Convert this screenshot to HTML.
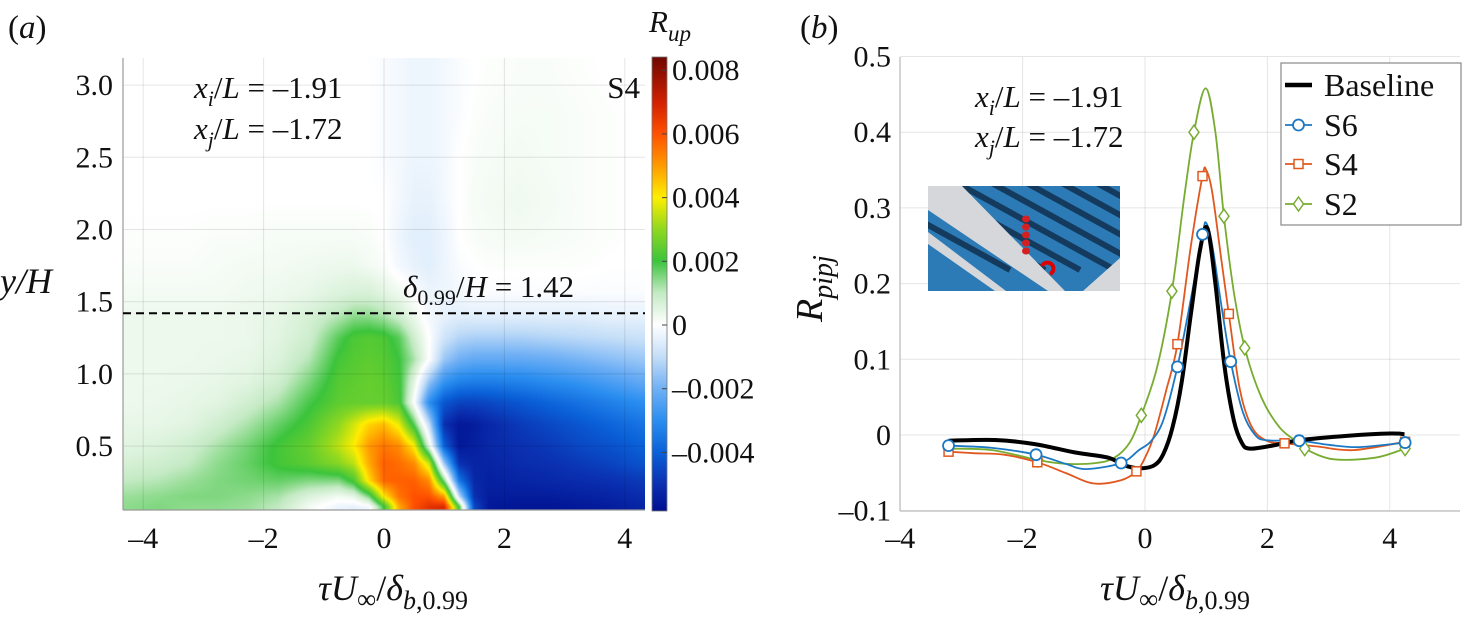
<!DOCTYPE html>
<html><head><meta charset="utf-8">
<style>
html,body{margin:0;padding:0;background:#fff;}
#wrap{position:relative;width:1463px;height:634px;overflow:hidden;font-family:"Liberation Serif","Times New Roman","DejaVu Serif",serif;}
#heat{position:absolute;left:123px;top:58px;}
#svg{position:absolute;left:0;top:0;font-family:"Liberation Serif","Times New Roman","DejaVu Serif",serif;}
#svg text, #svg tspan{font-family:"Liberation Serif","Times New Roman","DejaVu Serif",serif;}
</style></head>
<body>
<div id="wrap">
<canvas id="heat" width="522" height="452"></canvas>
<svg id="svg" width="1463" height="634" xmlns="http://www.w3.org/2000/svg"></svg>
</div>
<script>
// ---------- Panel (a) heatmap data (values in units of 1e-3) ----------
const heatX = [-4.25,-3.75,-3.25,-2.75,-2.25,-1.75,-1.25,-0.75,-0.5,-0.25,0,0.25,0.5,0.75,1.0,1.25,1.5,1.75,2.25,2.75,3.25,3.75,4.25];
const heatY = [3.1,2.8,2.5,2.2,1.95,1.75,1.55,1.4,1.25,1.1,0.95,0.8,0.65,0.5,0.38,0.26,0.15,0.08];
const heatV = [
[0,0,0,0,0,0,0,0,0,0,-0.1,-0.2,-0.3,-0.3,-0.2,-0.1,0,0.05,0.1,0.1,0.05,0,0],
[0,0,0,0,0,0,0,0,0,0,-0.1,-0.2,-0.3,-0.3,-0.2,-0.1,0.05,0.1,0.15,0.15,0.1,0.05,0],
[0,0,0,0,0,0,0,0,0,0,-0.1,-0.2,-0.3,-0.3,-0.2,0,0.1,0.15,0.2,0.15,0.1,0.05,0],
[0,0,0,0,0,0,0,0,0,0,0,-0.2,-0.4,-0.4,-0.2,0,0.15,0.2,0.25,0.2,0.1,0.05,0],
[0.05,0.05,0.05,0.1,0.1,0.15,0.15,0.15,0.15,0.1,0,-0.3,-0.5,-0.5,-0.3,0,0.1,0.15,0.2,0.15,0.1,0.05,0],
[0.1,0.1,0.1,0.15,0.2,0.2,0.25,0.3,0.3,0.2,0.1,-0.2,-0.4,-0.5,-0.3,-0.1,0,0.05,0.05,0.05,0.05,0,0],
[0.2,0.2,0.2,0.2,0.25,0.3,0.4,0.6,0.7,0.7,0.5,0.3,0,-0.3,-0.3,-0.2,-0.1,-0.1,-0.1,-0.1,-0.1,-0.1,-0.1],
[0.3,0.3,0.3,0.3,0.35,0.45,0.7,1.1,1.4,1.4,1.2,0.8,0.3,-0.2,-0.4,-0.5,-0.5,-0.5,-0.5,-0.5,-0.5,-0.4,-0.4],
[0.3,0.3,0.3,0.3,0.35,0.5,0.8,1.8,2.2,2.3,2.2,1.8,0.8,0,-0.8,-1.2,-1.3,-1.3,-1.3,-1.2,-1.1,-1.0,-0.9],
[0.3,0.3,0.3,0.35,0.4,0.6,1.1,2.1,2.3,2.4,2.3,2.0,1.2,0,-1.5,-2.0,-2.2,-2.2,-2.2,-2.1,-1.9,-1.7,-1.5],
[0.3,0.3,0.35,0.4,0.5,0.8,1.5,2.3,2.4,2.5,2.4,2.1,0.5,-1.5,-2.8,-3.2,-3.3,-3.3,-3.2,-3.0,-2.8,-2.5,-2.2],
[0.3,0.35,0.4,0.5,0.8,1.2,1.9,2.4,2.5,2.5,2.5,2.2,0,-3.0,-4.2,-4.6,-4.6,-4.5,-4.2,-3.9,-3.6,-3.3,-3.0],
[0.4,0.4,0.5,0.8,1.2,1.7,2.2,3.0,3.6,4.3,4.6,3.8,1.8,-1.0,-5.0,-5.6,-5.5,-5.2,-4.8,-4.5,-4.2,-3.9,-3.6],
[0.5,0.6,0.8,1.2,1.6,2.1,2.5,3.4,4.0,5.0,5.5,5.2,4.0,0.5,-4.0,-5.6,-5.4,-5.2,-5.0,-4.8,-4.5,-4.3,-4.0],
[0.7,0.8,1.0,1.4,1.7,2.1,2.4,2.9,3.4,4.8,5.8,5.6,5.2,3.5,-1.5,-5.0,-5.3,-5.3,-5.1,-5.0,-4.8,-4.6,-4.3],
[1.0,1.1,1.3,1.5,1.6,1.7,1.5,1.5,2.2,4.2,5.7,5.8,5.8,5.2,1.5,-3.5,-5.2,-5.4,-5.3,-5.2,-5.1,-5.0,-4.8],
[1.3,1.4,1.5,1.5,1.4,1.2,0.6,0.2,0.4,1.5,4.0,5.5,6.0,6.0,5.0,-1.0,-5.0,-5.5,-5.5,-5.5,-5.4,-5.3,-5.1],
[1.4,1.5,1.4,1.4,1.3,1.0,0.2,-0.3,-0.4,-0.2,2.0,4.8,6.0,6.6,6.8,2.0,-4.5,-5.6,-5.7,-5.7,-5.6,-5.5,-5.3]
];
const aXTicks = [-4,-2,0,2,4];
const aYTicks = [0.5,1.0,1.5,2.0,2.5,3.0];
const cbTicks = [8,6,4,2,0,-2,-4];
const cbLabels = ["0.008","0.006","0.004","0.002","0","–0.002","–0.004"];
const deltaLine = 1.42;
const cmapV = [-5.84,-5,-4,-3,-2,-1,0,1,2,3,4,5,6,7,8.4];
const cmapC = [[0,16,144],[10,48,176],[10,96,216],[42,142,240],[112,176,245],[196,222,248],[255,255,255],[196,234,196],[60,196,60],[144,216,32],[255,238,0],[255,154,0],[255,80,0],[208,32,0],[110,8,0]];

// ---------- Panel (b) data ----------
const baseX = [-3.21,-2.45,-1.8,-1.15,-0.6,-0.34,-0.09,0.15,0.3,0.45,0.6,0.75,0.9,1.02,1.15,1.3,1.45,1.58,1.71,2.08,2.52,3.32,4.0,4.24];
const baseY = [-0.0075,-0.0066,-0.012,-0.023,-0.03,-0.04,-0.044,-0.04,-0.025,0.01,0.07,0.16,0.245,0.273,0.2,0.09,0.02,-0.01,-0.018,-0.014,-0.007,-0.001,0.002,0.001];
const s6X = [-3.21,-2.5,-1.78,-1.3,-0.96,-0.39,-0.1,0.1,0.3,0.53,0.75,0.94,1.0,1.1,1.25,1.4,1.6,1.8,2.0,2.52,3.0,3.5,4.25];
const s6Y = [-0.014,-0.017,-0.026,-0.038,-0.045,-0.037,-0.02,-0.008,0.02,0.09,0.18,0.265,0.28,0.25,0.17,0.097,0.03,0.0,-0.007,-0.0075,-0.013,-0.016,-0.01];
const s4X = [-3.21,-2.8,-2.3,-1.76,-1.3,-0.85,-0.4,-0.14,0.0,0.15,0.35,0.53,0.75,0.94,1.0,1.1,1.25,1.37,1.55,1.75,2.0,2.28,2.8,3.4,4.25];
const s4Y = [-0.022,-0.024,-0.026,-0.036,-0.05,-0.064,-0.06,-0.048,-0.03,0.0,0.06,0.12,0.25,0.342,0.35,0.32,0.23,0.16,0.06,0.01,-0.008,-0.011,-0.015,-0.02,-0.009];
const s2X = [-3.21,-2.5,-1.75,-1.3,-0.8,-0.5,-0.25,-0.06,0.2,0.44,0.65,0.8,0.99,1.15,1.29,1.45,1.63,1.9,2.2,2.5,2.61,3.07,3.76,4.25];
const s2Y = [-0.018,-0.02,-0.033,-0.038,-0.037,-0.03,-0.01,0.026,0.09,0.19,0.32,0.40,0.458,0.40,0.289,0.19,0.115,0.05,0.01,-0.01,-0.018,-0.032,-0.03,-0.018];
const s6MX = [-3.21,-1.78,-0.39,0.53,0.94,1.4,2.52,4.25];
const s6MY = [-0.014,-0.026,-0.037,0.09,0.265,0.097,-0.0075,-0.01];
const s4MX = [-3.21,-1.76,-0.14,0.53,0.94,1.37,2.28,4.25];
const s4MY = [-0.022,-0.036,-0.048,0.12,0.342,0.16,-0.011,-0.009];
const s2MX = [-3.21,-1.75,-0.06,0.44,0.8,1.29,1.63,2.61,4.25];
const s2MY = [-0.018,-0.033,0.026,0.19,0.40,0.289,0.115,-0.018,-0.018];
const bXTicks = [-4,-2,0,2,4];
const bYTicks = [-0.1,0,0.1,0.2,0.3,0.4,0.5];
const bYLabels = ["–0.1","0","0.1","0.2","0.3","0.4","0.5"];

const aX = x => 384 + 60.2*x;
const aY = y => 518.3 - 144.4*y;
const aL = 123, aR = 645, aT = 58, aB = 510;
const cbY = v => 325 - 31.85*v;
const bX = x => 1145 + 61.2*x;
const bY = y => 435 - 757*y;
const bL = 900, bR = 1460, bT = 57, bB = 511;
const FF = '"Liberation Serif","Times New Roman","DejaVu Serif",serif';

function cmap(v){
  if(v<=cmapV[0]) return cmapC[0];
  for(let i=0;i<cmapV.length-1;i++){
    if(v<=cmapV[i+1]){
      const t=(v-cmapV[i])/(cmapV[i+1]-cmapV[i]);
      const a=cmapC[i],b=cmapC[i+1];
      return [a[0]+(b[0]-a[0])*t,a[1]+(b[1]-a[1])*t,a[2]+(b[2]-a[2])*t];
    }
  }
  return cmapC[cmapC.length-1];
}
function fmt(v){return v<0?"–"+Math.abs(v):String(v);}

(function(){
  const cv=document.getElementById('heat');const ctx=cv.getContext('2d');
  const W=cv.width,H=cv.height;const img=ctx.createImageData(W,H);
  const nx=heatX.length, ny=heatY.length;
  for(let py=0;py<H;py++){
    const y=(518.3-(py+aT+0.5))/144.4;
    let j=0,ty=0;
    if(y>=heatY[0]){j=0;ty=0;}
    else if(y<=heatY[ny-1]){j=ny-2;ty=1;}
    else{for(j=0;j<ny-1;j++){if(y<=heatY[j]&&y>=heatY[j+1])break;} ty=(heatY[j]-y)/(heatY[j]-heatY[j+1]);}
    for(let px=0;px<W;px++){
      const x=(px+aL+0.5-384)/60.2;
      let i=0,tx=0;
      if(x<=heatX[0]){i=0;tx=0;}
      else if(x>=heatX[nx-1]){i=nx-2;tx=1;}
      else{for(i=0;i<nx-1;i++){if(x>=heatX[i]&&x<=heatX[i+1])break;} tx=(x-heatX[i])/(heatX[i+1]-heatX[i]);}
      const v=(heatV[j][i]*(1-tx)+heatV[j][i+1]*tx)*(1-ty)+(heatV[j+1][i]*(1-tx)+heatV[j+1][i+1]*tx)*ty;
      const c=cmap(v);const k=(py*W+px)*4;
      img.data[k]=c[0];img.data[k+1]=c[1];img.data[k+2]=c[2];img.data[k+3]=255;
    }
  }
  ctx.putImageData(img,0,0);
})();

const NS="http://www.w3.org/2000/svg";
const svg=document.getElementById('svg');
function mk(tag,attrs,parent){const e=document.createElementNS(NS,tag);for(const k in attrs)e.setAttribute(k,attrs[k]);if(tag==='text')e.style.fontFamily=FF;(parent||svg).appendChild(e);return e;}
function smooth(xs,ys,sx,sy){
  const p=xs.map((x,i)=>[sx(x),sy(ys[i])]);
  let d="M"+p[0][0].toFixed(1)+","+p[0][1].toFixed(1);
  for(let i=0;i<p.length-1;i++){
    const p0=p[Math.max(0,i-1)],p1=p[i],p2=p[i+1],p3=p[Math.min(p.length-1,i+2)];
    const c1=[p1[0]+(p2[0]-p0[0])/6,p1[1]+(p2[1]-p0[1])/6];
    const c2=[p2[0]-(p3[0]-p1[0])/6,p2[1]-(p3[1]-p1[1])/6];
    d+=" C"+c1[0].toFixed(1)+","+c1[1].toFixed(1)+" "+c2[0].toFixed(1)+","+c2[1].toFixed(1)+" "+p2[0].toFixed(1)+","+p2[1].toFixed(1);
  }
  return d;
}
const defs=mk('defs',{});
const grad=mk('linearGradient',{id:'cbg',x1:0,y1:1,x2:0,y2:0},defs);
const cbLo=cmapV[0],cbHi=cmapV[cmapV.length-1];
cmapV.forEach((v,i)=>{const c=cmapC[i];mk('stop',{offset:((v-cbLo)/(cbHi-cbLo)).toFixed(4),'stop-color':`rgb(${c[0]},${c[1]},${c[2]})`},grad);});
const clipI=mk('clipPath',{id:'insetclip'},defs);mk('rect',{x:928,y:186,width:192,height:105},clipI);

// ===== Panel (a) =====
const ga=mk('g',{});


aXTicks.forEach(t=>{
  const l=mk('line',{x1:aX(t),x2:aX(t),y1:aT,y2:aB,stroke:'rgba(0,0,0,0.1)','stroke-width':1},ga);
  
  const tk=mk('text',{x:aX(t),y:548,'text-anchor':'middle','font-size':30,fill:'#111'},ga);
  tk.textContent=fmt(t);
  
});
aYTicks.forEach(t=>{
  const l=mk('line',{x1:aL,x2:aR,y1:aY(t),y2:aY(t),stroke:'rgba(0,0,0,0.1)','stroke-width':1},ga);
  
  const tk=mk('text',{x:113,y:aY(t)+10,'text-anchor':'end','font-size':30,fill:'#111'},ga);
  tk.textContent=t.toFixed(1);
  
});
const ax1=mk('line',{x1:aL,x2:aL,y1:aT,y2:aB,stroke:'#999','stroke-width':1.2},ga);

const ax2=mk('line',{x1:aL,x2:aR,y1:aB,y2:aB,stroke:'#999','stroke-width':1.2},ga);

const dl=mk('line',{x1:aL,x2:aR,y1:aY(deltaLine),y2:aY(deltaLine),stroke:'#000','stroke-width':2,'stroke-dasharray':'8,5'},ga);

const cb=mk('rect',{x:652,y:57,width:15,height:454,fill:'url(#cbg)',stroke:'#777','stroke-width':0.8},ga);

cbTicks.forEach((t,i)=>{
  const l=mk('line',{x1:662,x2:667,y1:cbY(t),y2:cbY(t),stroke:'#444','stroke-width':1},ga);
  
  const tx=mk('text',{x:672,y:cbY(t)+10,'font-size':30,fill:'#111'},ga);
  tx.textContent=cbLabels[i];
  
});
document.getElementById('svg').insertAdjacentHTML('beforeend',`
<g style='font-family:"Liberation Serif","Times New Roman","DejaVu Serif",serif'>
<text x="649" y="32" font-size="31" font-style="italic" fill="#111">R<tspan font-size="23" dy="9">up</tspan></text>
<text x="8" y="38" font-size="33" fill="#111">(<tspan font-style="italic">a</tspan>)</text>
<text x="0" y="293" font-size="36" font-style="italic" fill="#111">y/H</text>
<text x="393" y="600" text-anchor="middle" font-size="36" fill="#111"><tspan font-style="italic">τU</tspan><tspan font-size="27" dy="8">∞</tspan><tspan dy="-8">/</tspan><tspan font-style="italic">δ</tspan><tspan font-size="26" dy="9"><tspan font-style="italic">b</tspan>,0.99</tspan></text>
<text x="194" y="98" font-size="31" fill="#111"><tspan font-style="italic">x</tspan><tspan font-style="italic" font-size="22" dy="8">i</tspan><tspan dy="-8">/</tspan><tspan font-style="italic">L</tspan> = –1.91</text>
<text x="194" y="139" font-size="31" fill="#111"><tspan font-style="italic">x</tspan><tspan font-style="italic" font-size="22" dy="8">j</tspan><tspan dy="-8">/</tspan><tspan font-style="italic">L</tspan> = –1.72</text>
<text x="640" y="98" text-anchor="end" font-size="31" fill="#111">S4</text>
<text x="403" y="297" font-size="31" fill="#111"><tspan font-style="italic">δ</tspan><tspan font-size="22" dy="8">0.99</tspan><tspan dy="-8">/</tspan><tspan font-style="italic">H</tspan> = 1.42</text>
<text x="800" y="38" font-size="33" fill="#111">(<tspan font-style="italic">b</tspan>)</text>
<text transform="translate(822,322) rotate(-90)" font-size="38" font-style="italic" fill="#111">R<tspan font-size="28" dy="10">pipj</tspan></text>
<text x="1175" y="600" text-anchor="middle" font-size="36" fill="#111"><tspan font-style="italic">τU</tspan><tspan font-size="27" dy="8">∞</tspan><tspan dy="-8">/</tspan><tspan font-style="italic">δ</tspan><tspan font-size="26" dy="9"><tspan font-style="italic">b</tspan>,0.99</tspan></text>
<text x="975" y="107" font-size="31" fill="#111"><tspan font-style="italic">x</tspan><tspan font-style="italic" font-size="22" dy="8">i</tspan><tspan dy="-8">/</tspan><tspan font-style="italic">L</tspan> = –1.91</text>
<text x="975" y="147" font-size="31" fill="#111"><tspan font-style="italic">x</tspan><tspan font-style="italic" font-size="22" dy="8">j</tspan><tspan dy="-8">/</tspan><tspan font-style="italic">L</tspan> = –1.72</text>
</g>
`);

// ===== Panel (b) =====
const gb=mk('g',{});


bXTicks.forEach(t=>{
  const l=mk('line',{x1:bX(t),x2:bX(t),y1:bT,y2:bB,stroke:'rgba(0,0,0,0.1)','stroke-width':1},gb);
  
  const tk=mk('text',{x:bX(t),y:548,'text-anchor':'middle','font-size':30,fill:'#111'},gb);
  tk.textContent=fmt(t);
  
});
bYTicks.forEach((t,i)=>{
  const l=mk('line',{x1:bL,x2:bR,y1:bY(t),y2:bY(t),stroke:'rgba(0,0,0,0.1)','stroke-width':1},gb);
  
  const tk=mk('text',{x:891,y:bY(t)+10,'text-anchor':'end','font-size':30,fill:'#111'},gb);
  tk.textContent=bYLabels[i];
  
});
const bx1=mk('line',{x1:bL,x2:bL,y1:bT,y2:bB,stroke:'#bbb','stroke-width':1.2},gb);

const bx2=mk('line',{x1:bL,x2:bR,y1:bB,y2:bB,stroke:'#bbb','stroke-width':1.2},gb);


const gi=mk('g',{'clip-path':'url(#insetclip)'},gb);


mk('rect',{x:928,y:186,width:192,height:105,fill:'#2c7bb6'},gi);
[-70,-35,0,35,70,105,140,175].forEach(o=>{mk('line',{x1:880+o,y1:160,x2:1080+o,y2:270,stroke:'#143b5e','stroke-width':6},gi);});
mk('polygon',{points:'928,186 962,186 1065,291 1048,291 928,210',fill:'#d5d7db'},gi);
mk('polygon',{points:'928,232 1006,291 995,291 928,244',fill:'#d5d7db'},gi);
mk('polygon',{points:'1120,258 1120,291 1083,291',fill:'#d5d7db'},gi);
[219,227,235,243,251].forEach(yy=>{mk('ellipse',{cx:1026,cy:yy,rx:4,ry:3.5,fill:'#d42020'},gi);});
mk('path',{d:'M1042,266 a6,6 0 1,1 8,8',fill:'none',stroke:'#d00','stroke-width':4},gi);

function series(xs,ys,color,w,name){
  const p=mk('path',{d:smooth(xs,ys,bX,bY),fill:'none',stroke:color,'stroke-width':w,'stroke-linejoin':'round'},gb);
  
  
}
function marker(shape,cx,cy,color,parent){
  let e;
  if(shape==='o') e=mk('circle',{cx:cx,cy:cy,r:5.5,fill:'#fff',stroke:color,'stroke-width':1.8},parent);
  else if(shape==='s') e=mk('rect',{x:cx-4.5,y:cy-4.5,width:9,height:9,fill:'#fff',stroke:color,'stroke-width':1.5},parent);
  else e=mk('polygon',{points:`${cx},${cy-7} ${cx+5},${cy} ${cx},${cy+7} ${cx-5},${cy}`,fill:'#fff',stroke:color,'stroke-width':1.5},parent);
  return e;
}
const C6='#1b78c4',C4='#e0581f',C2='#77ac30';
series(s2X,s2Y,C2,1.8,'series-s2-line');
series(s4X,s4Y,C4,1.8,'series-s4-line');
series(s6X,s6Y,C6,1.8,'series-s6-line');
series(baseX,baseY,'#000',4,'series-baseline-line');
s2MX.forEach((x,i)=>{const m=marker('d',bX(x),bY(s2MY[i]),C2,gb);
  
  });
s4MX.forEach((x,i)=>{const m=marker('s',bX(x),bY(s4MY[i]),C4,gb);
  
  });
s6MX.forEach((x,i)=>{const m=marker('o',bX(x),bY(s6MY[i]),C6,gb);
  
  });

const lg=mk('g',{},gb);


mk('rect',{x:1281,y:63,width:180,height:162,fill:'#fff',stroke:'#888','stroke-width':1.2},lg);
const legNames=['Baseline','S6','S4','S2'];
const legColors=['#000',C6,C4,C2];
const legShapes=['','o','s','d'];
const legY=[85,125,164,204];
legNames.forEach((n,i)=>{
  const ge=mk('g',{},lg);
  
  
  mk('line',{x1:1285,x2:1312,y1:legY[i],y2:legY[i],stroke:legColors[i],'stroke-width':i===0?4.5:1.8},ge);
  if(legShapes[i]) marker(legShapes[i],1298.5,legY[i],legColors[i],ge);
  const t=mk('text',{x:1324,y:legY[i]+11,'font-size':32,fill:'#111'},ge);
  t.textContent=n;
});
</script>
</body></html>
